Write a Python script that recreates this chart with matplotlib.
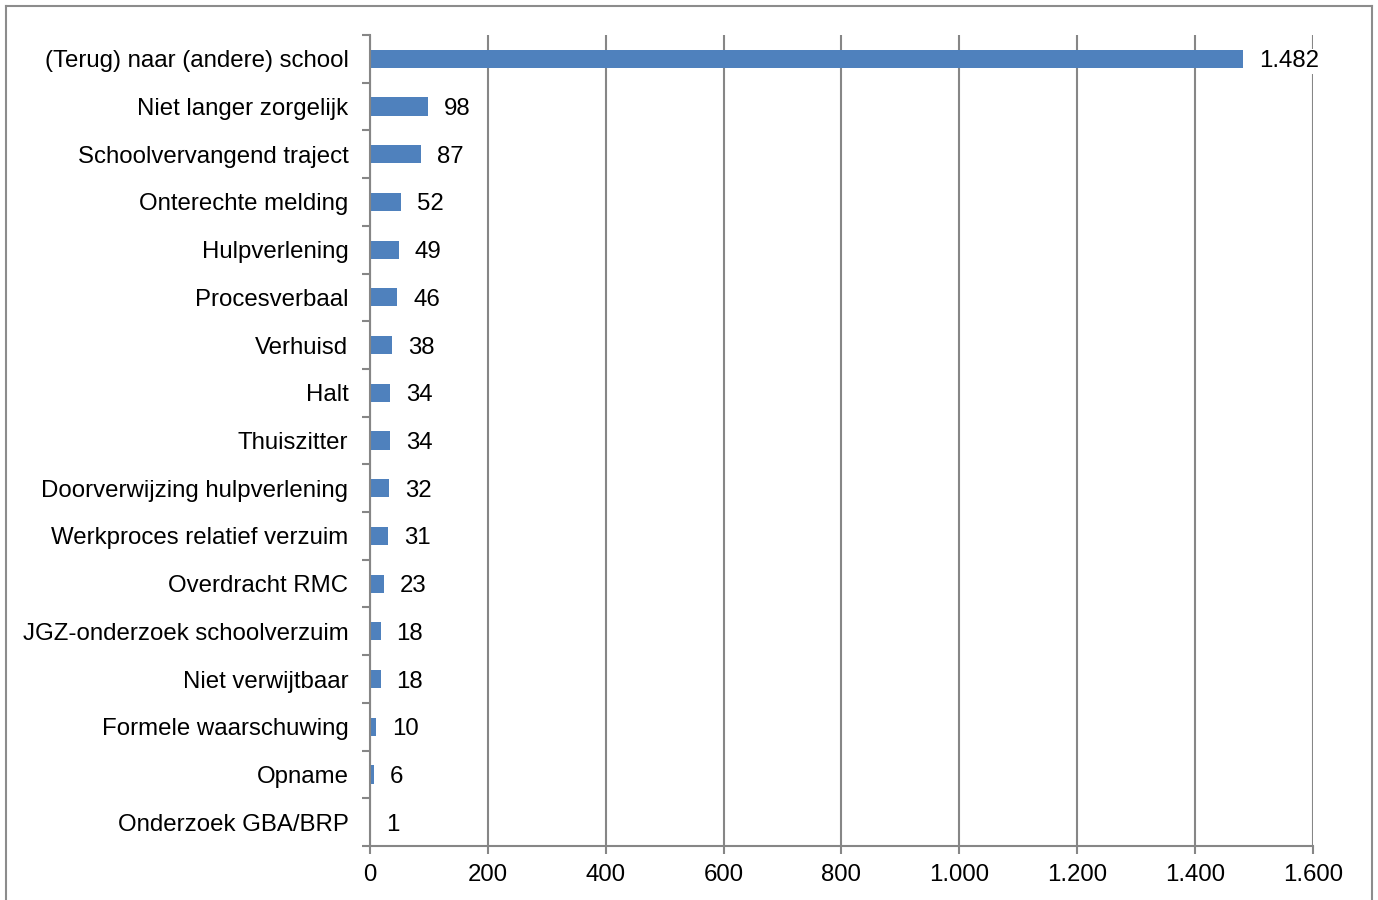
import matplotlib
matplotlib.use("Agg")
import matplotlib.pyplot as plt
from matplotlib.lines import Line2D

plt.rcParams['font.family'] = ['Liberation Sans', 'DejaVu Sans']

categories = ["(Terug) naar (andere) school", "Niet langer zorgelijk", "Schoolvervangend traject",
              "Onterechte melding", "Hulpverlening", "Procesverbaal", "Verhuisd", "Halt",
              "Thuiszitter", "Doorverwijzing hulpverlening", "Werkproces relatief verzuim",
              "Overdracht RMC", "JGZ-onderzoek schoolverzuim", "Niet verwijtbaar",
              "Formele waarschuwing", "Opname", "Onderzoek GBA/BRP"]
values = [1482, 98, 87, 52, 49, 46, 38, 34, 34, 32, 31, 23, 18, 18, 10, 6, 1]
xticks = [0, 200, 400, 600, 800, 1000, 1200, 1400, 1600]

def nl(v):
    return f"{v:,}".replace(",", ".")

FS = 17.3
W, H = 1378, 900
fig = plt.figure(figsize=(W/100, H/100), dpi=100)
ax = fig.add_axes([370/W, 1-846/H, (1313-370)/W, (846-35)/H])

grey = '#868686'
n = len(categories)
ypos = list(range(n))
ax.barh(ypos, values, height=0.38, color='#4F81BD', zorder=3)
ax.set_xlim(0, 1600)
ax.set_ylim(n-0.5, -0.5)
ax.set_xticks(xticks)
ax.set_xticklabels([nl(t) for t in xticks], fontsize=FS)
ax.set_yticks(ypos)
ax.set_yticklabels(categories, fontsize=FS)
ax.tick_params(axis='y', length=0, pad=15.5)
ax.tick_params(axis='x', length=6, color=grey, width=1.5, pad=7, direction='out')
ax.set_yticks([i-0.5 for i in range(n+1)], minor=True)
ax.tick_params(axis='y', which='minor', length=6, color=grey, width=1.5)
ax.xaxis.grid(True, color=grey, linewidth=1.5, zorder=0)
for s in ['top', 'right']:
    ax.spines[s].set_visible(False)
for s in ['left', 'bottom']:
    ax.spines[s].set_color(grey)
    ax.spines[s].set_linewidth(1.5)
    ax.spines[s].set_zorder(4)

for y, v in zip(ypos, values):
    ax.annotate(nl(v), xy=(v, y), xytext=(16, 0), textcoords='offset pixels',
                va='center_baseline', ha='left', fontsize=FS,
                bbox=dict(facecolor='white', edgecolor='none', pad=1), zorder=5)

border = '#8c8c8c'
fig.add_artist(Line2D([6/W, 6/W], [0, 1-6/H], color=border, lw=1.5, transform=fig.transFigure))
fig.add_artist(Line2D([6/W, 1372/W], [1-6/H, 1-6/H], color=border, lw=1.5, transform=fig.transFigure))
fig.add_artist(Line2D([1372/W, 1372/W], [0, 1-6/H], color=border, lw=1.5, transform=fig.transFigure))

fig.savefig('out.png', dpi=100)
